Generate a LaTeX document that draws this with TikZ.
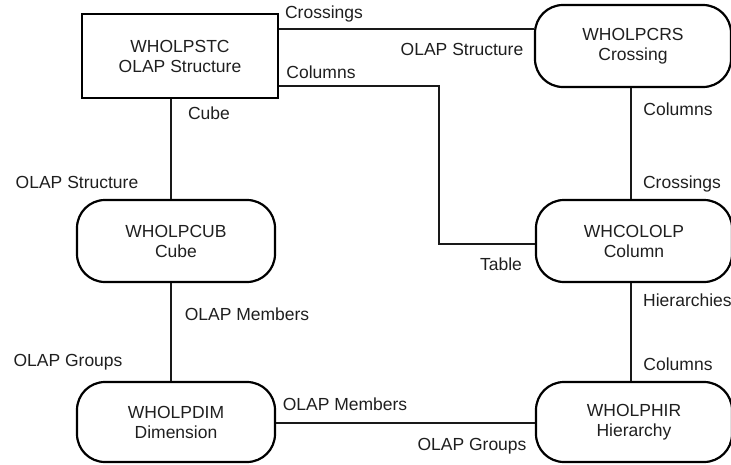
\documentclass[tikz,border=0pt]{standalone}
\usepackage{fontspec}
\setmainfont{Liberation Sans}
\begin{document}
\begin{tikzpicture}[x=1pt,y=-1pt,
  every node/.style={font=\fontsize{17.5}{20}\selectfont, text=black!88},
  entity/.style={draw, line width=2.2pt, align=center, minimum width=196pt, minimum height=82pt, inner sep=0pt},
  roundent/.style={entity, rounded corners=28pt},
  link/.style={line width=2.2pt, black!90},
  lbl/.style={inner sep=0pt}]
\useasboundingbox (0,0) rectangle (731,464);

% entities
\node[entity, minimum height=84pt] (stc) at (180,56) {WHOLPSTC\\OLAP Structure};
\node[roundent] (crs) at (633,46) {WHOLPCRS\\Crossing};
\node[roundent] (col) at (634,241) {WHCOLOLP\\Column};
\node[roundent, minimum height=80pt] (hir) at (634,422) {WHOLPHIR\\Hierarchy};
\node[roundent, minimum width=198pt] (cub) at (176,241) {WHOLPCUB\\Cube};
\node[roundent, minimum width=198pt, minimum height=80pt] (dim) at (176,422) {WHOLPDIM\\Dimension};

% relationships
\draw[link] (stc.east |- 0,29) -- (crs.west |- 0,29);
\draw[link] (stc.east |- 0,86) -- (439,86) -- (439,244) -- (col.west |- 0,244);
\draw[link] (stc.south -| 171,0) -- (cub.north -| 171,0);
\draw[link] (cub.south -| 171,0) -- (dim.north -| 171,0);
\draw[link] (crs.south -| 631,0) -- (col.north -| 631,0);
\draw[link] (col.south -| 631,0) -- (hir.north -| 631,0);
\draw[link] (dim.east |- 0,423) -- (hir.west |- 0,423);

% role labels
\node[lbl] (l1) at (324,14) {Crossings};
\node[lbl] (l2) at (462,49) {OLAP Structure};
\node[lbl] (l3) at (321,72) {Columns};
\node[lbl] (l4) at (209,113) {Cube};
\node[lbl] (l5) at (77,182) {OLAP Structure};
\node[lbl] (l6) at (678,109) {Columns};
\node[lbl] (l7) at (682,184) {Crossings};
\node[lbl] (l8) at (501,264) {Table};
\node[lbl, anchor=west] (l9) at (643,300) {Hierarchies};
\node[lbl] (l10) at (678,364) {Columns};
\node[lbl] (l11) at (247,314) {OLAP Members};
\node[lbl] (l12) at (68,362) {OLAP Groups};
\node[lbl] (l13) at (345,404) {OLAP Members};
\node[lbl] (l14) at (472,446) {OLAP Groups};
\end{tikzpicture}
\end{document}
